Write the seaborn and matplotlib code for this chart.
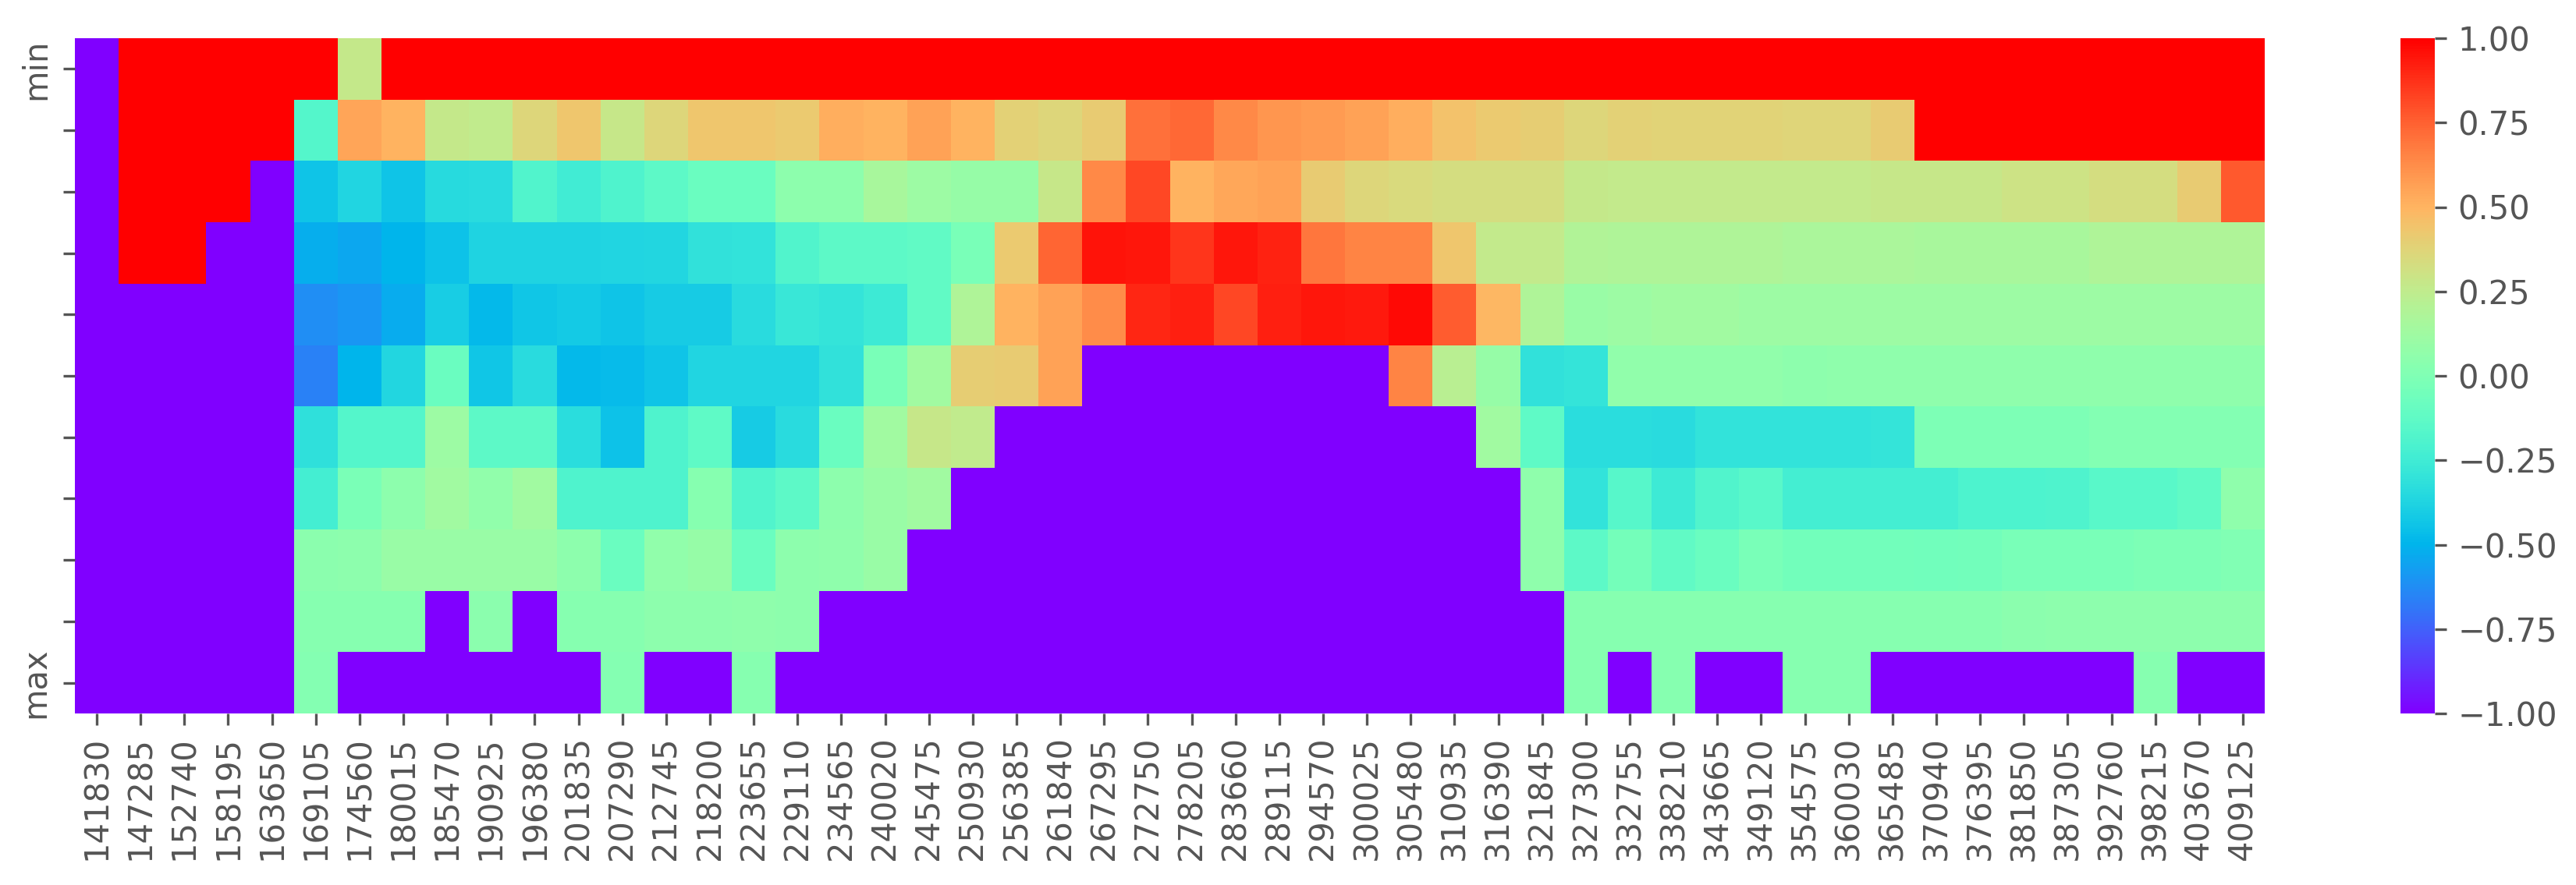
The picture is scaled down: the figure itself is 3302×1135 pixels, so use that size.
import matplotlib
matplotlib.use("Agg")
import matplotlib.pyplot as plt
import seaborn as sns
import pandas as pd

plt.rcParams.update({
    "font.family": ["DejaVu Sans"],
    "font.size": 10,
    "text.color": "#555555",
    "axes.labelcolor": "#555555",
    "xtick.color": "#555555",
    "ytick.color": "#555555",
})

# column labels (x axis)
bins = [141830, 147285, 152740, 158195, 163650, 169105, 174560, 180015, 185470, 190925,
        196380, 201835, 207290, 212745, 218200, 223655, 229110, 234565, 240020, 245475,
        250930, 256385, 261840, 267295, 272750, 278205, 283660, 289115, 294570, 300025,
        305480, 310935, 316390, 321845, 327300, 332755, 338210, 343665, 349120, 354575,
        360030, 365485, 370940, 376395, 381850, 387305, 392760, 398215, 403670, 409125]

# row labels (y axis)
levels = ["min", "", "", "", "", "", "", "", "", "", "max"]

# one list per row
r0 = [-1, 1, 1, 1, 1, 1, 0.27, 1, 1, 1, 1, 1, 1, 1, 1, 1, 1, 1, 1, 1,
      1, 1, 1, 1, 1, 1, 1, 1, 1, 1, 1, 1, 1, 1, 1, 1, 1, 1, 1, 1,
      1, 1, 1, 1, 1, 1, 1, 1, 1, 1]
r1 = [-1, 1, 1, 1, 1, -0.17, 0.55, 0.5, 0.27, 0.25, 0.36, 0.43, 0.28, 0.36, 0.43, 0.43, 0.42, 0.52, 0.5, 0.56,
      0.5, 0.39, 0.36, 0.41, 0.71, 0.73, 0.64, 0.6, 0.58, 0.56, 0.52, 0.45, 0.42, 0.4, 0.36, 0.39, 0.38, 0.38, 0.38, 0.37,
      0.37, 0.41, 1, 1, 1, 1, 1, 1, 1, 1]
r2 = [-1, 1, 1, 1, -1, -0.44, -0.37, -0.44, -0.35, -0.34, -0.18, -0.25, -0.19, -0.14, -0.08, -0.08, 0.05, 0.05, 0.16, 0.11,
      0.09, 0.09, 0.28, 0.64, 0.82, 0.5, 0.54, 0.56, 0.41, 0.36, 0.35, 0.33, 0.33, 0.33, 0.27, 0.26, 0.26, 0.26, 0.26, 0.26,
      0.26, 0.28, 0.28, 0.28, 0.3, 0.3, 0.33, 0.33, 0.41, 0.77]
r3 = [-1, 1, 1, -1, -1, -0.52, -0.54, -0.5, -0.45, -0.38, -0.38, -0.38, -0.37, -0.36, -0.31, -0.3, -0.18, -0.14, -0.14, -0.12,
      -0.03, 0.42, 0.74, 0.95, 0.94, 0.86, 0.94, 0.91, 0.69, 0.65, 0.65, 0.43, 0.26, 0.26, 0.19, 0.18, 0.18, 0.18, 0.18, 0.17,
      0.17, 0.17, 0.16, 0.16, 0.16, 0.16, 0.18, 0.18, 0.18, 0.18]
r4 = [-1, -1, -1, -1, -1, -0.62, -0.6, -0.53, -0.4, -0.48, -0.43, -0.42, -0.44, -0.41, -0.41, -0.34, -0.28, -0.29, -0.26, -0.12,
      0.18, 0.5, 0.56, 0.63, 0.9, 0.92, 0.82, 0.92, 0.94, 0.93, 0.97, 0.76, 0.49, 0.18, 0.1, 0.11, 0.13, 0.13, 0.11, 0.11,
      0.11, 0.11, 0.11, 0.11, 0.11, 0.11, 0.11, 0.11, 0.11, 0.11]
r5 = [-1, -1, -1, -1, -1, -0.66, -0.5, -0.36, -0.08, -0.43, -0.34, -0.48, -0.47, -0.44, -0.37, -0.37, -0.37, -0.31, -0.03, 0.13,
      0.4, 0.41, 0.56, -1, -1, -1, -1, -1, -1, -1, 0.65, 0.22, 0.09, -0.31, -0.29, 0.07, 0.07, 0.07, 0.07, 0.05,
      0.06, 0.06, 0.06, 0.06, 0.06, 0.06, 0.06, 0.06, 0.06, 0.06]
r6 = [-1, -1, -1, -1, -1, -0.32, -0.17, -0.17, 0.11, -0.14, -0.14, -0.33, -0.45, -0.19, -0.13, -0.41, -0.34, -0.08, 0.13, 0.28,
      0.25, -1, -1, -1, -1, -1, -1, -1, -1, -1, -1, -1, 0.13, -0.13, -0.33, -0.33, -0.34, -0.3, -0.3, -0.3,
      -0.3, -0.29, -0.01, -0.01, -0.01, -0.01, 0.01, 0.01, 0.01, 0.01]
r7 = [-1, -1, -1, -1, -1, -0.23, -0.02, 0.05, 0.13, 0.07, 0.13, -0.19, -0.19, -0.19, 0.03, -0.18, -0.14, 0.05, 0.1, 0.13,
      -1, -1, -1, -1, -1, -1, -1, -1, -1, -1, -1, -1, -1, 0.06, -0.3, -0.16, -0.26, -0.18, -0.15, -0.23,
      -0.23, -0.23, -0.23, -0.2, -0.2, -0.19, -0.15, -0.15, -0.12, 0.06]
r8 = [-1, -1, -1, -1, -1, 0.04, 0.05, 0.1, 0.1, 0.1, 0.1, 0.05, -0.08, 0.07, 0.09, -0.08, 0.05, 0.06, 0.1, -1,
      -1, -1, -1, -1, -1, -1, -1, -1, -1, -1, -1, -1, -1, 0.06, -0.14, -0.04, -0.12, -0.08, -0.03, -0.05,
      -0.05, -0.05, -0.06, -0.05, -0.03, -0.03, -0.03, -0.01, -0.01, 0.0]
r9 = [-1, -1, -1, -1, -1, 0.03, 0.03, 0.03, -1, 0.04, -1, 0.03, 0.03, 0.05, 0.05, 0.06, 0.05, -1, -1, -1,
      -1, -1, -1, -1, -1, -1, -1, -1, -1, -1, -1, -1, -1, -1, 0.03, 0.03, 0.03, 0.03, 0.03, 0.03,
      0.03, 0.03, 0.03, 0.03, 0.04, 0.05, 0.05, 0.05, 0.05, 0.05]
r10 = [-1, -1, -1, -1, -1, 0.02, -1, -1, -1, -1, -1, -1, 0.02, -1, -1, 0.03, -1, -1, -1, -1,
       -1, -1, -1, -1, -1, -1, -1, -1, -1, -1, -1, -1, -1, -1, 0.03, -1, 0.03, -1, -1, 0.03,
       0.03, -1, -1, -1, -1, -1, -1, 0.03, -1, -1]

df = pd.DataFrame([r0, r1, r2, r3, r4, r5, r6, r7, r8, r9, r10], columns=bins)

W, H = 3302, 1135
fig = plt.figure(figsize=(W / 300, H / 300), dpi=300)
ax = fig.add_axes([96 / W, 1 - 915 / H, (2903 - 96) / W, (915 - 49) / H])
cax = fig.add_axes([3077 / W, 1 - 915 / H, 44 / W, (915 - 49) / H])

sns.heatmap(df, cmap="rainbow", vmin=-1, vmax=1, ax=ax, cbar_ax=cax,
            xticklabels=bins, yticklabels=levels)
ax.tick_params(axis="x", labelrotation=90)

fig.savefig("out.png", dpi=300)
